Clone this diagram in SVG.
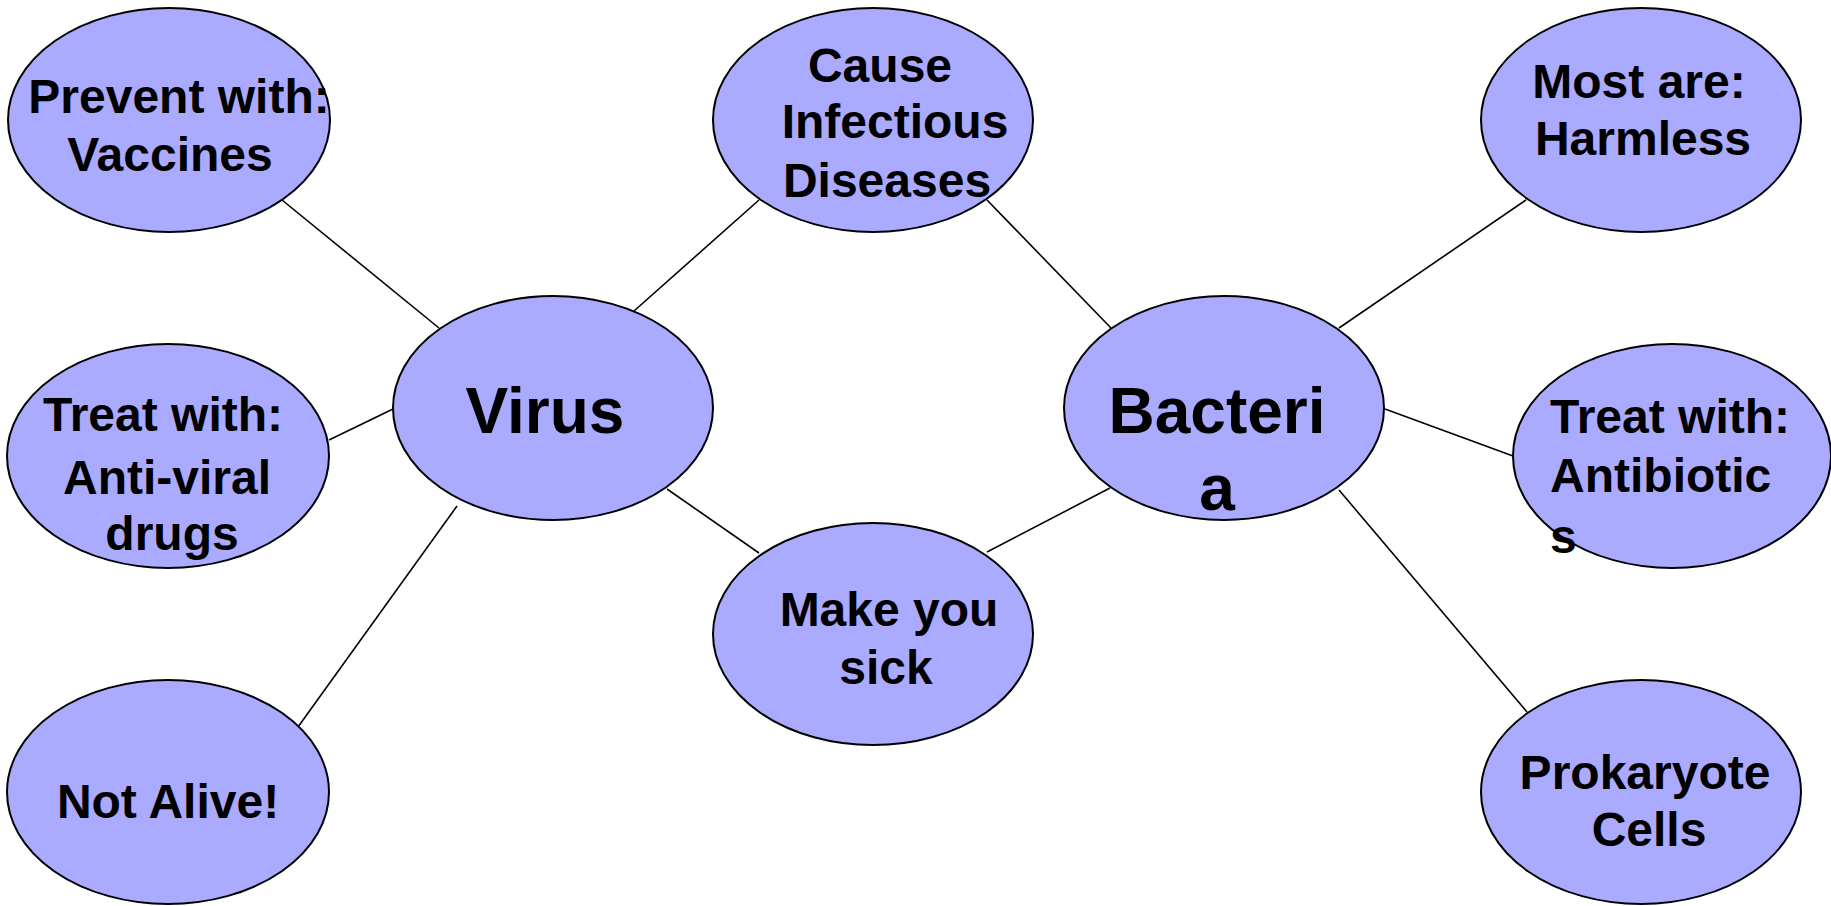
<svg xmlns="http://www.w3.org/2000/svg" width="1831" height="906" viewBox="0 0 1831 906">
<style>
.n{fill:#aaaaff;stroke:#000;stroke-width:2}
.c line{stroke:#000;stroke-width:1.6}
text{font-family:"Liberation Sans",Arial,Helvetica,sans-serif;font-weight:bold;fill:#000;font-size:48px;text-anchor:middle}
.big{font-size:64px}
</style>
<rect width="1831" height="906" fill="#fff"/>
<g id="connectors" class="c">
<line x1="282" y1="200" x2="439" y2="328"/>
<line x1="329" y1="440" x2="393" y2="409"/>
<line x1="298" y1="727" x2="457" y2="506"/>
<line x1="634" y1="311" x2="759" y2="200"/>
<line x1="667" y1="489" x2="759" y2="553"/>
<line x1="987" y1="200" x2="1111" y2="328"/>
<line x1="987" y1="552" x2="1110" y2="488"/>
<line x1="1339" y1="328" x2="1526" y2="200"/>
<line x1="1385" y1="409" x2="1513" y2="456"/>
<line x1="1339" y1="490" x2="1527" y2="712"/>
</g>
<g id="prevent">
<ellipse class="n" cx="169" cy="120" rx="161" ry="112"/>
<text x="179" y="113">Prevent with:</text>
<text x="170" y="171">Vaccines</text>
</g>
<g id="treat-antiviral">
<ellipse class="n" cx="168" cy="456" rx="161" ry="112"/>
<text x="163" y="431">Treat with:</text>
<text x="167" y="494">Anti-viral</text>
<text x="172" y="550">drugs</text>
</g>
<g id="not-alive">
<ellipse class="n" cx="168" cy="792" rx="161" ry="112"/>
<text x="168" y="818">Not Alive!</text>
</g>
<g id="virus">
<ellipse class="n" cx="553" cy="408" rx="160" ry="112"/>
<text class="big" x="545" y="433">Virus</text>
</g>
<g id="cause">
<ellipse class="n" cx="873" cy="120" rx="160" ry="112"/>
<text x="880" y="82">Cause</text>
<text x="895" y="138">Infectious</text>
<text x="887" y="197">Diseases</text>
</g>
<g id="make-sick">
<ellipse class="n" cx="873" cy="634" rx="160" ry="111"/>
<text x="889" y="626">Make you</text>
<text x="886" y="684">sick</text>
</g>
<g id="bacteria">
<ellipse class="n" cx="1224" cy="408" rx="160" ry="112"/>
<text class="big" x="1217" y="433">Bacteri</text>
<text class="big" x="1217" y="510">a</text>
</g>
<g id="harmless">
<ellipse class="n" cx="1641" cy="120" rx="160" ry="112"/>
<text x="1639" y="98">Most are:</text>
<text x="1643" y="155">Harmless</text>
</g>
<g id="treat-antibiotics">
<ellipse class="n" cx="1672" cy="456" rx="159" ry="112"/>
<text x="1550" y="433" style="text-anchor:start">Treat with:</text>
<text x="1550" y="492" style="text-anchor:start">Antibiotic</text>
<text x="1550" y="553" style="text-anchor:start">s</text>
</g>
<g id="prokaryote">
<ellipse class="n" cx="1641" cy="792" rx="160" ry="112"/>
<text x="1645" y="789">Prokaryote</text>
<text x="1649" y="846">Cells</text>
</g>
</svg>
